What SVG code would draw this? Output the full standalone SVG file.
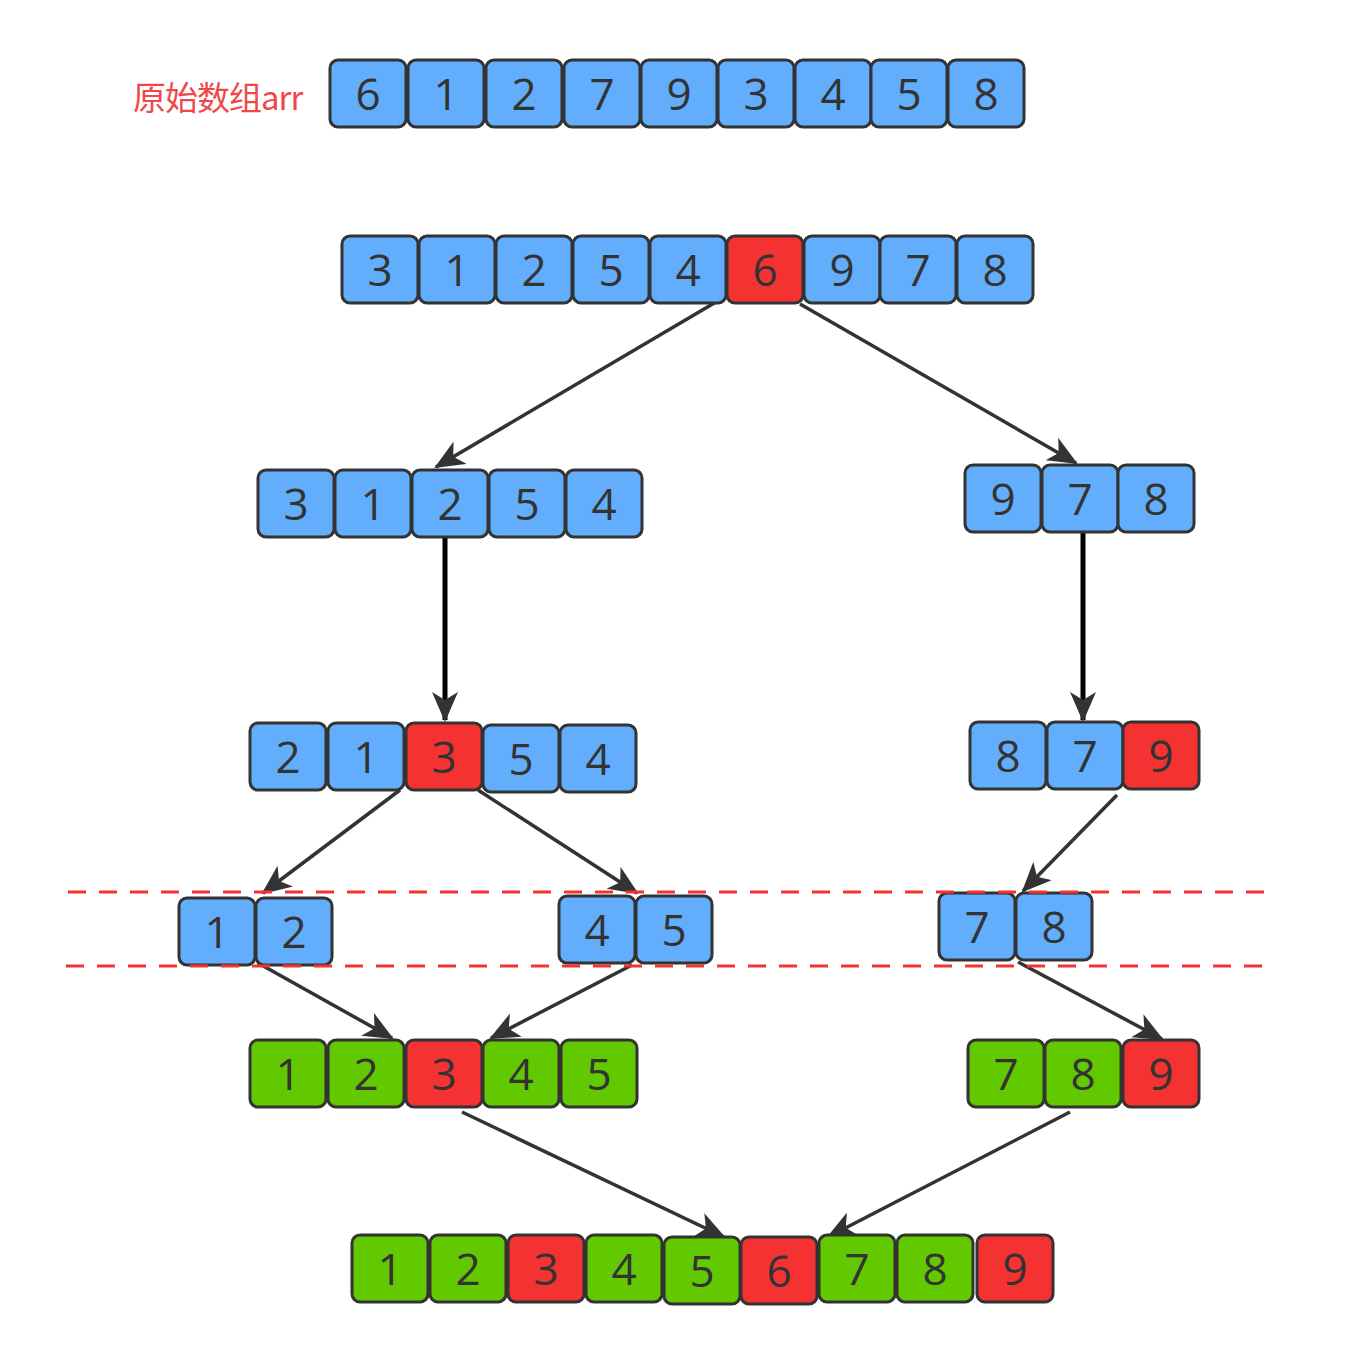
<svg xmlns="http://www.w3.org/2000/svg" width="1352" height="1348" viewBox="0 0 1352 1348">
<style>
.b rect{stroke:#333;stroke-width:3}
.bl{fill:#63aefc}.rd{fill:#f53232}.gr{fill:#62c800}
.b text{font-family:"Open Sans","DejaVu Sans",sans-serif;font-size:44px;fill:#333;text-anchor:middle}
.lbl{font-family:"Noto Sans CJK SC",sans-serif;font-size:33px;fill:#f04848;letter-spacing:-1px}
.c{stroke:#333;stroke-width:3.5;fill:none;marker-end:url(#ah)}
.v{stroke:#000;stroke-width:5;fill:none;marker-end:url(#ah)}
.d{stroke:#f53232;stroke-width:3;stroke-dasharray:18 13;fill:none}
</style>
<defs>
<marker id="ah" markerUnits="userSpaceOnUse" viewBox="0 0 30 26" refX="28" refY="13" markerWidth="30" markerHeight="26" orient="auto">
<path d="M0,0 L30,13 L0,26 L8,13 z" fill="#333"/>
</marker>
</defs>
<rect width="1352" height="1348" fill="#fff"/>
<text class="lbl" x="133" y="110">原始数组arr</text>

<g id="connectors">
<line class="c" x1="716" y1="302" x2="436" y2="467"/>
<line class="c" x1="800" y1="304" x2="1076" y2="463"/>
<line class="v" x1="445" y1="537" x2="445" y2="720"/>
<line class="v" x1="1083" y1="532" x2="1083" y2="720"/>
<line class="c" x1="400" y1="790" x2="263" y2="893"/>
<line class="c" x1="478" y1="790" x2="637" y2="893"/>
<line class="c" x1="1117" y1="795" x2="1023" y2="891"/>
<line class="c" x1="258" y1="963" x2="392" y2="1038"/>
<line class="c" x1="632" y1="965" x2="491" y2="1038"/>
<line class="c" x1="1018" y1="962" x2="1162" y2="1039"/>
<line class="c" x1="462" y1="1112" x2="724" y2="1237"/>
<line class="c" x1="1070" y1="1112" x2="828" y2="1237"/>
</g>

<g id="row1" class="b">
<g id="r1n1"><rect class="bl" x="330" y="60" width="76" height="67" rx="8"/><text x="368" y="110">6</text></g>
<g id="r1n2"><rect class="bl" x="408" y="60" width="76" height="67" rx="8"/><text x="446" y="110">1</text></g>
<g id="r1n3"><rect class="bl" x="486" y="60" width="76" height="67" rx="8"/><text x="524" y="110">2</text></g>
<g id="r1n4"><rect class="bl" x="564" y="60" width="76" height="67" rx="8"/><text x="602" y="110">7</text></g>
<g id="r1n5"><rect class="bl" x="641" y="60" width="76" height="67" rx="8"/><text x="679" y="110">9</text></g>
<g id="r1n6"><rect class="bl" x="718" y="60" width="76" height="67" rx="8"/><text x="756" y="110">3</text></g>
<g id="r1n7"><rect class="bl" x="795" y="60" width="76" height="67" rx="8"/><text x="833" y="110">4</text></g>
<g id="r1n8"><rect class="bl" x="871" y="60" width="76" height="67" rx="8"/><text x="909" y="110">5</text></g>
<g id="r1n9"><rect class="bl" x="948" y="60" width="76" height="67" rx="8"/><text x="986" y="110">8</text></g>
</g>

<g id="row2" class="b">
<g id="r2n1"><rect class="bl" x="342" y="236" width="76" height="67" rx="8"/><text x="380" y="286">3</text></g>
<g id="r2n2"><rect class="bl" x="419" y="236" width="76" height="67" rx="8"/><text x="457" y="286">1</text></g>
<g id="r2n3"><rect class="bl" x="496" y="236" width="76" height="67" rx="8"/><text x="534" y="286">2</text></g>
<g id="r2n4"><rect class="bl" x="573" y="236" width="76" height="67" rx="8"/><text x="611" y="286">5</text></g>
<g id="r2n5"><rect class="bl" x="650" y="236" width="76" height="67" rx="8"/><text x="688" y="286">4</text></g>
<g id="r2n6"><rect class="rd" x="727" y="236" width="76" height="67" rx="8"/><text x="765" y="286">6</text></g>
<g id="r2n7"><rect class="bl" x="804" y="236" width="76" height="67" rx="8"/><text x="842" y="286">9</text></g>
<g id="r2n8"><rect class="bl" x="880" y="236" width="76" height="67" rx="8"/><text x="918" y="286">7</text></g>
<g id="r2n9"><rect class="bl" x="957" y="236" width="76" height="67" rx="8"/><text x="995" y="286">8</text></g>
</g>

<g id="row3L" class="b">
<g id="r3a1"><rect class="bl" x="258" y="470" width="76" height="67" rx="8"/><text x="296" y="520">3</text></g>
<g id="r3a2"><rect class="bl" x="335" y="470" width="76" height="67" rx="8"/><text x="373" y="520">1</text></g>
<g id="r3a3"><rect class="bl" x="412" y="470" width="76" height="67" rx="8"/><text x="450" y="520">2</text></g>
<g id="r3a4"><rect class="bl" x="489" y="470" width="76" height="67" rx="8"/><text x="527" y="520">5</text></g>
<g id="r3a5"><rect class="bl" x="566" y="470" width="76" height="67" rx="8"/><text x="604" y="520">4</text></g>
</g>
<g id="row3R" class="b">
<g id="r3b1"><rect class="bl" x="965" y="465" width="76" height="67" rx="8"/><text x="1003" y="515">9</text></g>
<g id="r3b2"><rect class="bl" x="1042" y="465" width="76" height="67" rx="8"/><text x="1080" y="515">7</text></g>
<g id="r3b3"><rect class="bl" x="1118" y="465" width="76" height="67" rx="8"/><text x="1156" y="515">8</text></g>
</g>

<g id="row4L" class="b">
<g id="r4a1"><rect class="bl" x="250" y="723" width="76" height="67" rx="8"/><text x="288" y="773">2</text></g>
<g id="r4a2"><rect class="bl" x="328" y="723" width="76" height="67" rx="8"/><text x="366" y="773">1</text></g>
<g id="r4a3"><rect class="rd" x="406" y="723" width="76" height="67" rx="8"/><text x="444" y="773">3</text></g>
<g id="r4a4"><rect class="bl" x="483" y="725" width="76" height="67" rx="8"/><text x="521" y="775">5</text></g>
<g id="r4a5"><rect class="bl" x="560" y="725" width="76" height="67" rx="8"/><text x="598" y="775">4</text></g>
</g>
<g id="row4R" class="b">
<g id="r4b1"><rect class="bl" x="970" y="722" width="76" height="67" rx="8"/><text x="1008" y="772">8</text></g>
<g id="r4b2"><rect class="bl" x="1047" y="722" width="76" height="67" rx="8"/><text x="1085" y="772">7</text></g>
<g id="r4b3"><rect class="rd" x="1123" y="722" width="76" height="67" rx="8"/><text x="1161" y="772">9</text></g>
</g>

<g id="row5" class="b">
<g id="r5a1"><rect class="bl" x="179" y="898" width="76" height="67" rx="8"/><text x="217" y="948">1</text></g>
<g id="r5a2"><rect class="bl" x="256" y="898" width="76" height="67" rx="8"/><text x="294" y="948">2</text></g>
<g id="r5b1"><rect class="bl" x="559" y="896" width="76" height="67" rx="8"/><text x="597" y="946">4</text></g>
<g id="r5b2"><rect class="bl" x="636" y="896" width="76" height="67" rx="8"/><text x="674" y="946">5</text></g>
<g id="r5c1"><rect class="bl" x="939" y="893" width="76" height="67" rx="8"/><text x="977" y="943">7</text></g>
<g id="r5c2"><rect class="bl" x="1016" y="893" width="76" height="67" rx="8"/><text x="1054" y="943">8</text></g>
</g>

<g id="dashes">
<line class="d" x1="68" y1="892" x2="1273" y2="892"/>
<line class="d" x1="66" y1="966" x2="1272" y2="966"/>
</g>

<g id="row6L" class="b">
<g id="r6a1"><rect class="gr" x="250" y="1040" width="76" height="67" rx="8"/><text x="288" y="1090">1</text></g>
<g id="r6a2"><rect class="gr" x="328" y="1040" width="76" height="67" rx="8"/><text x="366" y="1090">2</text></g>
<g id="r6a3"><rect class="rd" x="406" y="1040" width="76" height="67" rx="8"/><text x="444" y="1090">3</text></g>
<g id="r6a4"><rect class="gr" x="483" y="1040" width="76" height="67" rx="8"/><text x="521" y="1090">4</text></g>
<g id="r6a5"><rect class="gr" x="561" y="1040" width="76" height="67" rx="8"/><text x="599" y="1090">5</text></g>
</g>
<g id="row6R" class="b">
<g id="r6b1"><rect class="gr" x="968" y="1040" width="76" height="67" rx="8"/><text x="1006" y="1090">7</text></g>
<g id="r6b2"><rect class="gr" x="1045" y="1040" width="76" height="67" rx="8"/><text x="1083" y="1090">8</text></g>
<g id="r6b3"><rect class="rd" x="1123" y="1040" width="76" height="67" rx="8"/><text x="1161" y="1090">9</text></g>
</g>

<g id="row7" class="b">
<g id="r7n1"><rect class="gr" x="352" y="1235" width="76" height="67" rx="8"/><text x="390" y="1285">1</text></g>
<g id="r7n2"><rect class="gr" x="430" y="1235" width="76" height="67" rx="8"/><text x="468" y="1285">2</text></g>
<g id="r7n3"><rect class="rd" x="508" y="1235" width="76" height="67" rx="8"/><text x="546" y="1285">3</text></g>
<g id="r7n4"><rect class="gr" x="586" y="1235" width="76" height="67" rx="8"/><text x="624" y="1285">4</text></g>
<g id="r7n5"><rect class="gr" x="664" y="1237" width="76" height="67" rx="8"/><text x="702" y="1287">5</text></g>
<g id="r7n6"><rect class="rd" x="741" y="1237" width="76" height="67" rx="8"/><text x="779" y="1287">6</text></g>
<g id="r7n7"><rect class="gr" x="819" y="1235" width="76" height="67" rx="8"/><text x="857" y="1285">7</text></g>
<g id="r7n8"><rect class="gr" x="897" y="1235" width="76" height="67" rx="8"/><text x="935" y="1285">8</text></g>
<g id="r7n9"><rect class="rd" x="977" y="1235" width="76" height="67" rx="8"/><text x="1015" y="1285">9</text></g>
</g>
</svg>
